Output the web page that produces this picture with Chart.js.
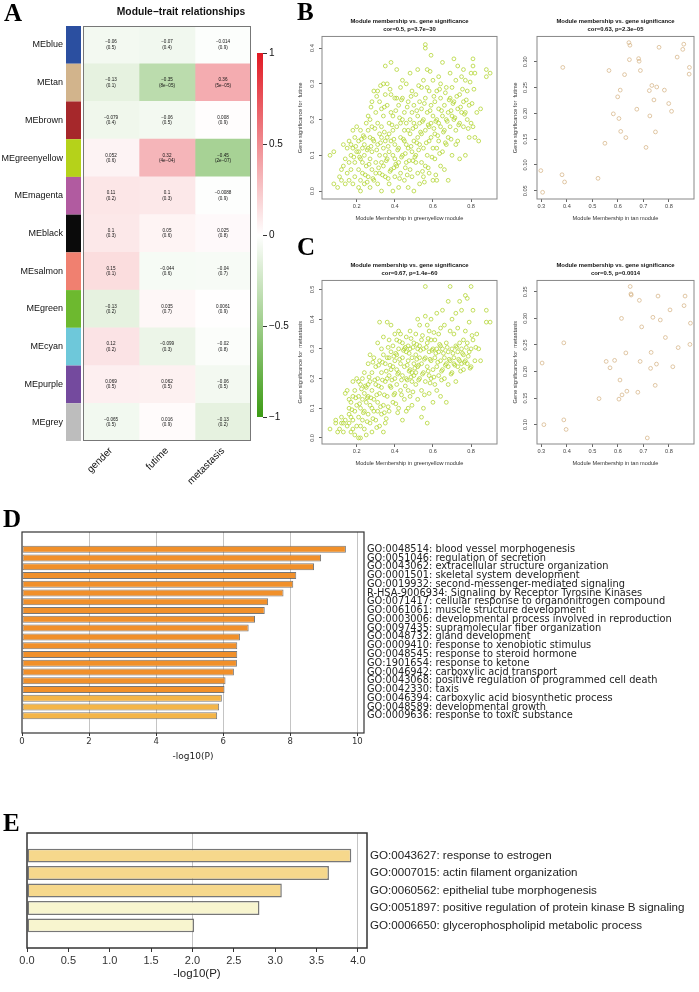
<!DOCTYPE html>
<html>
<head>
<meta charset="utf-8">
<title>Module-trait relationships and enrichment</title>
<script src="https://cdn.jsdelivr.net/npm/chart.js@4.4.1/dist/chart.umd.min.js"></script>
<style>
  html, body { margin: 0; padding: 0; background: #fff; }
  #page { position: relative; width: 699px; height: 992px; overflow: hidden; }
  canvas, .txt { position: absolute; }
  .letter { font-family: "Liberation Serif", "Times New Roman", serif; font-weight: bold; line-height: 1; font-size: 25px; color: #000; }
  .mtitle { font-family: "Liberation Sans", Arial, sans-serif; font-weight: bold; font-size: 10.3px; line-height: 12px; transform: translateX(-50%); white-space: nowrap; color: #111; }
</style>
</head>
<body>
<div id="page">
  <canvas id="heat" width="300" height="495" style="left:0px;top:0px"></canvas>
  <canvas id="cbar" width="50" height="395" style="left:250px;top:40px"></canvas>
  <canvas id="b1" width="212" height="216" style="left:290px;top:14px"></canvas>
  <canvas id="b2" width="194" height="216" style="left:505px;top:14px"></canvas>
  <canvas id="c1" width="212" height="217" style="left:290px;top:258px"></canvas>
  <canvas id="c2" width="194" height="217" style="left:505px;top:258px"></canvas>
  <canvas id="dbar" width="699" height="250" style="left:0px;top:520px"></canvas>
  <canvas id="ebar" width="699" height="172" style="left:0px;top:820px"></canvas>

  <div class="txt letter" style="left:4px;top:0px">A</div>
  <div class="txt mtitle" style="left:181px;top:6px">Module−trait relationships</div>
  <div class="txt letter" style="left:297px;top:-1px">B</div>
  <div class="txt letter" style="left:297px;top:234px">C</div>
  <div class="txt letter" style="left:3px;top:506px">D</div>
  <div class="txt letter" style="left:3px;top:810px">E</div>
</div>
<script>
// ---- panel A : module-trait heatmap ----
const modules = ["MEblue", "MEtan", "MEbrown", "MEgreenyellow", "MEmagenta", "MEblack",
  "MEsalmon", "MEgreen", "MEcyan", "MEpurple", "MEgrey"];
const moduleColors = ["#2B4FA0", "#D2B48C", "#A6282B", "#B5D21A", "#B15BA0", "#0A0A0A",
  "#F08070", "#6DB92F", "#6EC8DA", "#744A9E", "#BDBDBD"];
const traits = ["gender", "futime", "metastasis"];

const corGender = [-0.06, -0.13, -0.079, 0.052, 0.11, 0.1, 0.15, -0.13, 0.12, 0.069, -0.065];
const pGender = ["0.5", "0.1", "0.4", "0.6", "0.2", "0.3", "0.1", "0.2", "0.2", "0.5", "0.5"];
const corFutime = [-0.07, -0.35, -0.06, 0.32, 0.1, 0.05, -0.044, 0.035, -0.099, 0.062, 0.016];
const pFutime = ["0.4", "8e-05", "0.5", "4e-04", "0.3", "0.6", "0.6", "0.7", "0.3", "0.5", "0.9"];
const corMeta = [-0.014, 0.36, 0.008, -0.45, -0.0088, 0.025, -0.04, 0.0061, -0.02, -0.06, -0.13];
const pMeta = ["0.9", "5e-05", "0.9", "2e-07", "0.9", "0.8", "0.7", "0.9", "0.8", "0.5", "0.2"];
const cbTicks = [-1, -0.5, 0, 0.5, 1];

// ---- panels B / C : module membership vs gene significance ----
// greenyellow module, GS for futime
const gyFutime = [
  [0.06,0.10],[0.08,0.11],[0.08,0.02],[0.10,0.01],
  [0.11,0.04],[0.12,0.03],[0.13,0.07],[0.13,0.13],[0.14,0.09],[0.14,0.02],[0.15,0.05],[0.15,0.12],[0.12,0.06],
  [0.16,0.14],[0.16,0.03],[0.17,0.10],[0.17,0.06],[0.18,0.12],[0.18,0.17],[0.18,0.02],[0.19,0.08],[0.19,0.15],
  [0.19,0.04],[0.20,0.11],[0.20,0.18],[0.16,0.08],[0.17,0.13],
  [0.21,0.01],[0.21,0.06],[0.21,0.14],[0.22,0.09],[0.22,0.03],[0.22,0.17],[0.23,0.12],[0.23,0.05],[0.24,0.10],
  [0.24,0.15],[0.24,0.02],[0.25,0.07],[0.25,0.19],[0.23,0.08],[0.21,0.11],[0.24,0.13],[0.22,0.00],
  [0.26,0.04],[0.26,0.12],[0.26,0.21],[0.27,0.09],[0.27,0.15],[0.27,0.01],[0.28,0.06],[0.28,0.18],[0.28,0.11],
  [0.29,0.03],[0.29,0.14],[0.29,0.28],[0.30,0.08],[0.30,0.22],[0.30,0.05],[0.26,0.17],[0.28,0.25],[0.27,0.20],
  [0.31,0.13],[0.31,0.02],[0.31,0.19],[0.32,0.10],[0.32,0.25],[0.32,0.05],[0.33,0.15],[0.33,0.08],[0.33,0.00],
  [0.34,0.12],[0.34,0.21],[0.34,0.30],[0.35,0.04],[0.35,0.14],[0.35,0.35],[0.35,0.27],[0.33,0.23],[0.32,0.16],
  [0.34,0.07],[0.31,0.28],[0.35,0.10],[0.33,0.18],
  [0.36,0.09],[0.36,0.15],[0.36,0.24],[0.37,0.02],[0.37,0.11],[0.37,0.19],[0.38,0.06],[0.38,0.14],[0.38,0.36],
  [0.38,0.27],[0.39,0.10],[0.39,0.21],[0.39,0.00],[0.40,0.13],[0.40,0.26],[0.40,0.04],[0.36,0.30],[0.37,0.16],
  [0.39,0.17],[0.40,0.09],[0.38,0.22],
  [0.41,0.18],[0.41,0.07],[0.41,0.34],[0.42,0.12],[0.42,0.24],[0.42,0.01],[0.43,0.15],[0.43,0.29],[0.43,0.05],
  [0.44,0.10],[0.44,0.20],[0.44,0.26],[0.45,0.14],[0.45,0.03],[0.45,0.22],[0.41,0.26],[0.43,0.19],[0.42,0.08],
  [0.44,0.31],[0.45,0.17],
  [0.46,0.08],[0.46,0.19],[0.46,0.30],[0.47,0.12],[0.47,0.25],[0.47,0.01],[0.48,0.16],[0.48,0.33],[0.48,0.06],
  [0.49,0.22],[0.49,0.11],[0.49,0.28],[0.50,0.14],[0.50,0.00],[0.50,0.19],[0.46,0.13],[0.48,0.20],[0.49,0.04],
  [0.47,0.17],[0.50,0.24],
  [0.51,0.10],[0.51,0.27],[0.51,0.18],[0.52,0.05],[0.52,0.21],[0.52,0.34],[0.53,0.13],[0.53,0.25],[0.53,0.02],
  [0.54,0.16],[0.54,0.29],[0.54,0.08],[0.55,0.20],[0.55,0.12],[0.55,0.31],[0.52,0.15],[0.54,0.23],[0.51,0.08],
  [0.53,0.19],[0.55,0.04],
  [0.56,0.41],[0.56,0.40],[0.56,0.17],[0.56,0.26],[0.57,0.10],[0.57,0.22],[0.57,0.34],[0.58,0.14],[0.58,0.28],
  [0.58,0.05],[0.59,0.19],[0.59,0.24],[0.59,0.38],[0.60,0.12],[0.60,0.21],[0.60,0.31],[0.56,0.07],[0.57,0.29],
  [0.58,0.18],[0.60,0.03],[0.59,0.15],
  [0.61,0.25],[0.61,0.16],[0.61,0.09],[0.62,0.20],[0.62,0.28],[0.62,0.03],[0.63,0.14],[0.63,0.23],[0.63,0.32],
  [0.64,0.18],[0.64,0.07],[0.64,0.26],[0.65,0.21],[0.65,0.36],[0.65,0.11],[0.62,0.12],[0.63,0.19],[0.64,0.30],
  [0.66,0.17],[0.66,0.24],[0.66,0.06],[0.67,0.20],[0.67,0.29],[0.67,0.13],[0.68,0.22],[0.68,0.03],[0.69,0.26],
  [0.69,0.18],[0.70,0.10],[0.70,0.21],[0.70,0.29],[0.68,0.15],[0.69,0.33],
  [0.71,0.20],[0.71,0.37],[0.71,0.25],[0.72,0.13],[0.72,0.31],[0.72,0.17],[0.73,0.23],[0.73,0.35],[0.74,0.19],
  [0.74,0.27],[0.74,0.09],[0.75,0.22],[0.75,0.32],[0.73,0.14],
  [0.76,0.25],[0.76,0.34],[0.76,0.18],[0.77,0.31],[0.77,0.22],[0.77,0.10],[0.78,0.20],[0.78,0.28],[0.79,0.15],
  [0.79,0.24],[0.80,0.33],[0.80,0.19],
  [0.81,0.37],[0.81,0.35],[0.81,0.18],[0.82,0.33],[0.82,0.15],[0.83,0.22],[0.84,0.14],[0.85,0.23],
  [0.88,0.32],[0.88,0.34],[0.90,0.33],
  [0.215,0.095],[0.235,0.155],[0.245,0.045],[0.255,0.115],[0.265,0.075],[0.275,0.125],[0.285,0.035],[0.295,0.175],
  [0.305,0.115],[0.315,0.065],[0.325,0.135],[0.335,0.045],[0.345,0.165],[0.355,0.085],[0.365,0.125],[0.375,0.055],
  [0.385,0.185],[0.395,0.145],[0.405,0.075],[0.415,0.115],[0.425,0.205],[0.435,0.095],[0.445,0.145],[0.455,0.065],
  [0.465,0.235],[0.475,0.085],[0.485,0.125],[0.495,0.175],[0.505,0.095],[0.515,0.225],[0.525,0.115],[0.535,0.165],
  [0.545,0.055],[0.555,0.245],[0.565,0.135],[0.575,0.185],[0.585,0.225],[0.595,0.095],[0.605,0.265],[0.615,0.195],
  [0.625,0.155],[0.635,0.285],[0.645,0.225],[0.655,0.165],[0.665,0.275],[0.675,0.195],[0.685,0.255],[0.695,0.145],
  [0.705,0.245],[0.715,0.205],[0.725,0.265],[0.735,0.185],[0.745,0.235],[0.755,0.285],[0.765,0.215],[0.775,0.255],
  [0.785,0.175],[0.795,0.305],[0.805,0.245],[0.815,0.285],[0.345,0.235],[0.375,0.285],[0.405,0.225],[0.435,0.255],
  [0.465,0.045],[0.495,0.085],[0.525,0.295],[0.555,0.025],[0.585,0.335],[0.615,0.045],[0.275,0.235],[0.305,0.265],
  [0.325,0.295],[0.185,0.095],[0.195,0.125],[0.225,0.145],[0.255,0.025],[0.285,0.145],[0.365,0.035],[0.395,0.065],
  [0.425,0.035],[0.455,0.105],[0.485,0.265],[0.515,0.135],[0.545,0.195],[0.575,0.065],[0.605,0.175],[0.635,0.105],
  [0.665,0.135],[0.695,0.225]
];
// tan module, GS for futime
const tanFutime = [
  [0.298,0.089],[0.305,0.047],[0.381,0.081],[0.391,0.067],[0.384,0.289],[0.522,0.074],[0.549,0.142],
  [0.565,0.283],[0.582,0.199],[0.599,0.232],[0.609,0.245],[0.604,0.190],[0.611,0.165],[0.626,0.275],
  [0.631,0.153],[0.643,0.337],[0.647,0.332],[0.645,0.304],[0.674,0.208],[0.681,0.306],[0.683,0.301],
  [0.688,0.283],[0.710,0.134],[0.723,0.244],[0.733,0.254],[0.725,0.195],[0.741,0.226],[0.752,0.251],
  [0.747,0.164],[0.761,0.328],[0.782,0.245],[0.799,0.219],[0.810,0.204],[0.832,0.309],[0.854,0.324],
  [0.858,0.334],[0.880,0.289],[0.879,0.276]
];
// greenyellow module, GS for metastasis
const gyMeta = [
  [0.06,0.03],[0.09,0.06],[0.09,0.05],[0.10,0.02],
  [0.11,0.03],[0.12,0.07],[0.13,0.05],[0.13,0.02],[0.14,0.15],[0.14,0.06],[0.15,0.16],[0.15,0.04],[0.12,0.05],
  [0.16,0.05],[0.16,0.10],[0.16,0.13],[0.17,0.07],[0.17,0.02],[0.17,0.12],[0.18,0.06],[0.18,0.19],[0.18,0.14],
  [0.19,0.09],[0.19,0.01],[0.19,0.16],[0.20,0.11],[0.20,0.20],[0.20,0.04],[0.16,0.08],[0.18,0.03],
  [0.21,0.07],[0.21,0.14],[0.21,0.00],[0.22,0.18],[0.22,0.10],[0.22,0.04],[0.23,0.13],[0.23,0.20],[0.23,0.06],
  [0.24,0.15],[0.24,0.09],[0.24,0.22],[0.25,0.12],[0.25,0.01],[0.25,0.17],[0.22,0.00],[0.24,0.03],[0.21,0.19],
  [0.26,0.08],[0.26,0.14],[0.26,0.25],[0.27,0.19],[0.27,0.05],[0.27,0.11],[0.28,0.16],[0.28,0.22],[0.28,0.02],
  [0.29,0.13],[0.29,0.27],[0.29,0.09],[0.30,0.18],[0.30,0.24],[0.30,0.06],[0.27,0.28],[0.28,0.10],[0.26,0.18],
  [0.31,0.12],[0.31,0.20],[0.31,0.32],[0.32,0.39],[0.32,0.15],[0.32,0.26],[0.33,0.08],[0.33,0.22],[0.33,0.17],
  [0.34,0.28],[0.34,0.11],[0.34,0.34],[0.35,0.19],[0.35,0.05],[0.35,0.25],[0.32,0.04],[0.33,0.30],[0.34,0.02],
  [0.31,0.09],
  [0.36,0.39],[0.36,0.14],[0.36,0.27],[0.37,0.21],[0.37,0.33],[0.37,0.09],[0.38,0.17],[0.38,0.38],[0.38,0.29],
  [0.39,0.24],[0.39,0.12],[0.39,0.31],[0.40,0.20],[0.40,0.35],[0.40,0.15],[0.36,0.20],[0.38,0.23],[0.37,0.27],
  [0.40,0.26],
  [0.41,0.28],[0.41,0.18],[0.41,0.33],[0.42,0.22],[0.42,0.10],[0.42,0.30],[0.43,0.25],[0.43,0.16],[0.43,0.35],
  [0.44,0.27],[0.44,0.21],[0.44,0.06],[0.45,0.30],[0.45,0.13],[0.45,0.24],[0.42,0.36],[0.44,0.32],[0.41,0.23],
  [0.46,0.20],[0.46,0.29],[0.46,0.34],[0.47,0.26],[0.47,0.16],[0.47,0.10],[0.48,0.23],[0.48,0.30],[0.48,0.36],
  [0.49,0.19],[0.49,0.27],[0.49,0.11],[0.50,0.25],[0.50,0.32],[0.50,0.21],[0.47,0.31],[0.49,0.22],[0.46,0.09],
  [0.48,0.14],
  [0.51,0.28],[0.51,0.18],[0.51,0.35],[0.52,0.24],[0.52,0.30],[0.52,0.13],[0.53,0.27],[0.53,0.20],[0.53,0.38],
  [0.54,0.33],[0.54,0.16],[0.54,0.25],[0.55,0.30],[0.55,0.22],[0.55,0.10],[0.52,0.40],[0.54,0.07],[0.51,0.22],
  [0.53,0.31],
  [0.56,0.51],[0.56,0.41],[0.56,0.27],[0.56,0.19],[0.57,0.05],[0.57,0.32],[0.57,0.24],[0.58,0.29],[0.58,0.36],
  [0.58,0.15],[0.59,0.26],[0.59,0.20],[0.59,0.33],[0.60,0.30],[0.60,0.23],[0.60,0.12],[0.57,0.38],[0.58,0.21],
  [0.59,0.40],
  [0.61,0.27],[0.61,0.33],[0.61,0.18],[0.62,0.30],[0.62,0.24],[0.62,0.42],[0.63,0.29],[0.63,0.21],[0.63,0.35],
  [0.64,0.26],[0.64,0.31],[0.64,0.14],[0.65,0.23],[0.65,0.30],[0.65,0.43],[0.62,0.16],[0.64,0.37],
  [0.66,0.27],[0.66,0.20],[0.66,0.38],[0.67,0.25],[0.67,0.32],[0.67,0.12],[0.68,0.29],[0.68,0.24],[0.68,0.46],
  [0.69,0.51],[0.69,0.36],[0.69,0.26],[0.70,0.30],[0.70,0.22],[0.70,0.40],[0.68,0.18],
  [0.71,0.27],[0.71,0.35],[0.71,0.25],[0.72,0.31],[0.72,0.19],[0.72,0.42],[0.73,0.29],[0.73,0.37],[0.73,0.24],
  [0.74,0.46],[0.74,0.32],[0.74,0.26],[0.75,0.30],[0.75,0.25],[0.75,0.43],
  [0.76,0.33],[0.76,0.28],[0.76,0.23],[0.77,0.48],[0.77,0.36],[0.77,0.26],[0.78,0.47],[0.78,0.32],[0.78,0.25],
  [0.79,0.39],[0.79,0.29],[0.80,0.51],[0.80,0.30],[0.80,0.24],
  [0.81,0.43],[0.81,0.33],[0.82,0.26],[0.83,0.35],[0.84,0.30],[0.85,0.26],
  [0.88,0.43],[0.88,0.39],[0.90,0.39],
  [0.215,0.115],[0.235,0.085],[0.245,0.175],[0.255,0.055],[0.265,0.205],[0.275,0.135],[0.285,0.065],[0.295,0.195],
  [0.305,0.145],[0.315,0.245],[0.325,0.105],[0.335,0.195],[0.345,0.145],[0.355,0.225],[0.365,0.105],[0.375,0.245],
  [0.385,0.195],[0.395,0.145],[0.405,0.285],[0.415,0.215],[0.425,0.265],[0.435,0.195],[0.445,0.295],[0.455,0.175],
  [0.465,0.245],[0.475,0.285],[0.485,0.205],[0.495,0.305],[0.505,0.235],[0.515,0.265],[0.525,0.195],[0.535,0.295],
  [0.545,0.215],[0.555,0.265],[0.565,0.305],[0.575,0.225],[0.585,0.265],[0.595,0.295],[0.605,0.205],[0.615,0.285],
  [0.625,0.255],[0.635,0.315],[0.645,0.225],[0.655,0.285],[0.665,0.245],[0.675,0.305],[0.685,0.265],[0.695,0.215],
  [0.705,0.285],[0.715,0.245],[0.725,0.305],[0.735,0.265],[0.745,0.225],[0.755,0.285],[0.765,0.255],[0.775,0.305],
  [0.785,0.275],[0.795,0.235],[0.805,0.345],[0.825,0.305],[0.335,0.255],[0.365,0.305],[0.395,0.275],[0.425,0.325],
  [0.455,0.305],[0.485,0.335],[0.515,0.315],[0.545,0.345],[0.575,0.335],[0.605,0.355],[0.285,0.255],[0.315,0.175],
  [0.345,0.085],[0.375,0.175],[0.405,0.115],[0.435,0.145],[0.465,0.195],[0.495,0.155],[0.525,0.245],[0.555,0.145],
  [0.195,0.135],[0.175,0.095],[0.225,0.165],[0.255,0.135],[0.305,0.035],[0.355,0.065],[0.415,0.085],[0.475,0.225],
  [0.585,0.185],[0.645,0.195]
];
// tan module, GS for metastasis
const tanMeta = [
  [0.303,0.216],[0.310,0.100],[0.388,0.254],[0.388,0.109],[0.397,0.091],[0.526,0.149],[0.554,0.219],
  [0.569,0.207],[0.587,0.221],[0.604,0.148],[0.608,0.184],[0.614,0.300],[0.616,0.156],[0.631,0.235],
  [0.635,0.163],[0.648,0.360],[0.651,0.346],[0.652,0.344],[0.678,0.161],[0.684,0.334],[0.687,0.219],
  [0.693,0.284],[0.715,0.075],[0.728,0.206],[0.730,0.236],[0.737,0.302],[0.746,0.174],[0.751,0.214],
  [0.757,0.342],[0.766,0.297],[0.786,0.264],[0.804,0.316],[0.815,0.209],[0.836,0.245],[0.859,0.324],
  [0.863,0.342],[0.882,0.251],[0.884,0.291]
];
const gyTicksX = [0.2, 0.4, 0.6, 0.8];
const tanTicksX = [0.3, 0.4, 0.5, 0.6, 0.7, 0.8];
const futimeTicksGY = [0, 0.1, 0.2, 0.3, 0.4];
const futimeTicksTan = [0.05, 0.10, 0.15, 0.20, 0.25, 0.30];
const metaTicksGY = [0, 0.1, 0.2, 0.3, 0.4, 0.5];
const metaTicksTan = [0.10, 0.15, 0.20, 0.25, 0.30, 0.35];

// ---- panels D / E : enrichment bars ----
const dTerms = [
  "GO:0048514: blood vessel morphogenesis",
  "GO:0051046: regulation of secretion",
  "GO:0043062: extracellular structure organization",
  "GO:0001501: skeletal system development",
  "GO:0019932: second-messenger-mediated signaling",
  "R-HSA-9006934: Signaling by Receptor Tyrosine Kinases",
  "GO:0071417: cellular response to organonitrogen compound",
  "GO:0061061: muscle structure development",
  "GO:0003006: developmental process involved in reproduction",
  "GO:0097435: supramolecular fiber organization",
  "GO:0048732: gland development",
  "GO:0009410: response to xenobiotic stimulus",
  "GO:0048545: response to steroid hormone",
  "GO:1901654: response to ketone",
  "GO:0046942: carboxylic acid transport",
  "GO:0043068: positive regulation of programmed cell death",
  "GO:0042330: taxis",
  "GO:0046394: carboxylic acid biosynthetic process",
  "GO:0048589: developmental growth",
  "GO:0009636: response to toxic substance"
];
const dValues = [9.66, 8.92, 8.71, 8.18, 8.09, 7.80, 7.34, 7.24, 6.95, 6.76,
  6.50, 6.42, 6.42, 6.41, 6.32, 6.07, 6.04, 5.96, 5.88, 5.82];
const dTicks = [0, 2, 4, 6, 8, 10];

const eTerms = [
  "GO:0043627: response to estrogen",
  "GO:0007015: actin filament organization",
  "GO:0060562: epithelial tube morphogenesis",
  "GO:0051897: positive regulation of protein kinase B signaling",
  "GO:0006650: glycerophospholipid metabolic process"
];
const eValues = [3.92, 3.65, 3.08, 2.81, 2.02];
const eTicks = [0, 0.5, 1.0, 1.5, 2.0, 2.5, 3.0, 3.5, 4.0];

// ------------------------------------------------------------------
const SANS = '"Liberation Sans", Arial, sans-serif';
const DEJAVU = '"DejaVu Sans", Verdana, sans-serif';

Chart.defaults.animation = false;
Chart.defaults.responsive = false;
Chart.defaults.maintainAspectRatio = false;
Chart.defaults.plugins.legend.display = false;
Chart.defaults.plugins.tooltip.enabled = false;
Chart.defaults.color = '#222';

const minus = s => String(s).replace(/-/g, '\u2212');

function heatColor(r) {
  const end = r >= 0 ? [225, 25, 35] : [60, 155, 20];
  const t = Math.min(1, Math.abs(r));
  const c = end.map(e => Math.round(255 - t * (255 - e)));
  return 'rgb(' + c.join(',') + ')';
}

// strip + frame + numbers in the cells
const heatExtras = {
  id: 'heatExtras',
  afterDatasetsDraw(chart) {
    const ctx = chart.ctx;
    const area = chart.chartArea;
    ctx.save();
    chart.getDatasetMeta(0).data.forEach((bar, i) => {
      ctx.fillStyle = moduleColors[i];
      ctx.fillRect(area.left - 17, bar.y - bar.height / 2, 15, bar.height);
    });
    ctx.strokeStyle = '#777';
    ctx.lineWidth = 1;
    ctx.strokeRect(area.left + 0.5, area.top + 0.5, area.width - 1, area.height - 1);
    ctx.fillStyle = '#111';
    ctx.font = '4.6px ' + SANS;
    ctx.textAlign = 'center';
    ctx.textBaseline = 'middle';
    chart.data.datasets.forEach((ds, di) => {
      chart.getDatasetMeta(di).data.forEach((bar, i) => {
        const cx = (bar.x + bar.base) / 2;
        ctx.fillText(minus(ds.cor[i]), cx, bar.y - 2.7);
        ctx.fillText('(' + minus(ds.p[i]) + ')', cx, bar.y + 2.7);
      });
    });
    ctx.restore();
  }
};

const heatSets = [
  { label: traits[0], cor: corGender, p: pGender },
  { label: traits[1], cor: corFutime, p: pFutime },
  { label: traits[2], cor: corMeta, p: pMeta }
].map(s => ({
  label: s.label,
  cor: s.cor,
  p: s.p,
  data: modules.map(() => 1),
  backgroundColor: s.cor.map(heatColor),
  borderWidth: 0,
  categoryPercentage: 1,
  barPercentage: 1
}));

new Chart(document.getElementById('heat'), {
  type: 'bar',
  data: { labels: modules, datasets: heatSets },
  options: {
    indexAxis: 'y',
    layout: { padding: { top: 26, right: 49 } },
    scales: {
      x: {
        type: 'linear', stacked: true, min: 0, max: traits.length,
        afterBuildTicks: s => { s.ticks = traits.map((t, i) => ({ value: i + 0.5 })); },
        afterFit: s => { s.height = 54; },
        grid: { display: false, drawTicks: false },
        border: { display: false },
        ticks: {
          autoSkip: false, minRotation: 45, maxRotation: 45, padding: 4,
          font: { family: SANS, size: 10 }, color: '#111',
          callback: (v, i) => traits[i]
        }
      },
      y: {
        stacked: true,
        afterFit: s => { s.width = 83; },
        grid: { display: false, drawTicks: false },
        border: { display: false },
        ticks: { padding: 20, font: { family: SANS, size: 9 }, color: '#111' }
      }
    }
  },
  plugins: [heatExtras]
});

// colour key
const gradientFill = {
  id: 'gradientFill',
  beforeDatasetsDraw(chart) {
    const { ctx, chartArea: a } = chart;
    const g = ctx.createLinearGradient(0, a.bottom, 0, a.top);
    for (let k = 0; k <= 20; k++) g.addColorStop(k / 20, heatColor(-1 + k / 10));
    ctx.save();
    ctx.fillStyle = g;
    ctx.fillRect(a.left, a.top, a.width, a.height);
    ctx.restore();
  }
};

new Chart(document.getElementById('cbar'), {
  type: 'bar',
  data: { labels: [''], datasets: [{ data: [null] }] },
  options: {
    layout: { padding: { left: 7, top: 13, bottom: 18 } },
    scales: {
      x: { display: false },
      y: {
        position: 'right', min: -1, max: 1,
        afterBuildTicks: s => { s.ticks = cbTicks.map(v => ({ value: v })); },
        afterFit: s => { s.width = 37; },
        grid: { drawOnChartArea: false, drawTicks: true, tickLength: 4, color: '#333' },
        border: { display: false },
        ticks: { padding: 2, font: { family: SANS, size: 10 }, color: '#111',
          callback: v => (v < 0 ? '\u2212' : '') + Math.abs(v) }
      }
    }
  },
  plugins: [gradientFill]
});

// scatter panels
const frame = {
  id: 'frame',
  afterDraw(chart) {
    const { ctx, chartArea: a } = chart;
    ctx.save();
    ctx.strokeStyle = chart.options.plugins.frame.color;
    ctx.lineWidth = chart.options.plugins.frame.width;
    ctx.strokeRect(a.left, a.top, a.width, a.height);
    ctx.restore();
  }
};

function scatterPanel(id, pts, color, titleLines, xTitle, yTitle, xlim, ylim, xt, yt, yDec) {
  const tickFont = { family: SANS, size: 5.6 };
  new Chart(document.getElementById(id), {
    type: 'scatter',
    data: {
      datasets: [{
        data: pts.map(p => ({ x: p[0], y: p[1] })),
        pointRadius: 1.9,
        pointBorderWidth: 0.8,
        pointBackgroundColor: 'rgba(0,0,0,0)',
        pointBorderColor: color
      }]
    },
    options: {
      layout: { padding: { right: 5 } },
      plugins: {
        frame: { color: '#888', width: 1 },
        title: {
          display: true, text: titleLines, fullSize: false, color: '#111',
          font: { family: SANS, size: 5.9, weight: 'bold', lineHeight: 1.25 },
          padding: { top: 4, bottom: 3.7 }
        }
      },
      scales: {
        x: {
          type: 'linear', min: xlim[0], max: xlim[1],
          afterBuildTicks: s => { s.ticks = xt.map(v => ({ value: v })); },
          afterFit: s => { s.height = 31; },
          grid: { drawOnChartArea: false, drawTicks: true, tickLength: 3, color: '#666' },
          border: { display: false },
          ticks: { padding: 1, font: tickFont, color: '#444', callback: v => v.toFixed(1) },
          title: { display: true, text: xTitle, font: { family: SANS, size: 5.6, lineHeight: 1.2 },
            color: '#333', padding: { top: 0, bottom: 8.6 } }
        },
        y: {
          type: 'linear', min: ylim[0], max: ylim[1],
          afterBuildTicks: s => { s.ticks = yt.map(v => ({ value: v })); },
          afterFit: s => { s.width = 32; },
          grid: { drawOnChartArea: false, drawTicks: true, tickLength: 3, color: '#666' },
          border: { display: false },
          ticks: { minRotation: 90, maxRotation: 90, crossAlign: 'center', padding: 2.8,
            font: tickFont, color: '#444', callback: v => v.toFixed(yDec) },
          title: { display: true, text: yTitle, font: { family: SANS, size: 5.6, lineHeight: 1.2 },
            color: '#333', padding: { top: 6.6, bottom: 0 } }
        }
      }
    },
    plugins: [frame]
  });
}

const GY = '#B4D636';
const TAN = '#D8B98E';
scatterPanel('b1', gyFutime, GY,
  ['Module membership vs. gene significance', 'cor=0.5, p=3.7e\u221230'],
  'Module Membership in greenyellow module', 'Gene significance for  futime',
  [0.018, 0.936], [-0.0223, 0.4327], gyTicksX, futimeTicksGY, 1);
scatterPanel('b2', tanFutime, TAN,
  ['Module membership vs. gene significance', 'cor=0.63, p=2.3e\u221205'],
  'Module Membership in tan module', 'Gene significance for  futime',
  [0.283, 0.898], [0.034, 0.349], tanTicksX, futimeTicksTan, 2);
scatterPanel('c1', gyMeta, GY,
  ['Module membership vs. gene significance', 'cor=0.67, p=1.4e\u221260'],
  'Module Membership in greenyellow module', 'Gene significance for  metastasis',
  [0.018, 0.936], [-0.0204, 0.5304], gyTicksX, metaTicksGY, 1);
scatterPanel('c2', tanMeta, TAN,
  ['Module membership vs. gene significance', 'cor=0.5, p=0.0014'],
  'Module Membership in tan module', 'Gene significance for  metastasis',
  [0.283, 0.898], [0.0636, 0.3714], tanTicksX, metaTicksTan, 2);

// enrichment bar panels
function binColor(v) {
  if (v >= 6) return '#F1902A';
  if (v >= 4) return '#F4B548';
  if (v >= 3) return '#F6D88C';
  return '#F8F5CF';
}

function enrichPanel(id, terms, values, ticks, xmax, o) {
  const n = terms.length;
  const margin = 0.05 * (n - 1 + 0.8);
  new Chart(document.getElementById(id), {
    type: 'bar',
    data: {
      datasets: [{
        data: values.map((v, i) => ({ x: v, y: i })),
        backgroundColor: values.map(binColor),
        borderColor: 'rgba(95,95,95,0.85)',
        borderWidth: o.barBorder,
        borderSkipped: false,
        categoryPercentage: 1,
        barPercentage: 0.8
      }]
    },
    options: {
      indexAxis: 'y',
      layout: { padding: { left: o.left, top: o.top } },
      plugins: { frame: { color: '#333', width: o.frameWidth } },
      scales: {
        x: {
          type: 'linear', min: 0, max: xmax,
          afterBuildTicks: s => { s.ticks = ticks.map(v => ({ value: v })); },
          afterFit: s => { s.height = o.xHeight; },
          grid: {
            drawTicks: true, tickLength: o.tickLen, tickColor: '#333', lineWidth: 1,
            color: c => (c.tick && c.tick.value > 0 && c.tick.value % 2 === 0) ? '#C4C4C4' : 'rgba(0,0,0,0)'
          },
          border: { display: false },
          ticks: { padding: o.tickPad, font: o.tickFont, color: '#333', callback: o.fmt },
          title: { display: true, text: '-log10(P)', font: o.titleFont, color: '#222',
            padding: { top: 0, bottom: o.titlePad } }
        },
        y: {
          type: 'linear', position: 'right', reverse: true,
          min: -0.4 - margin, max: n - 1 + 0.4 + margin,
          afterBuildTicks: s => { s.ticks = terms.map((t, i) => ({ value: i })); },
          afterFit: s => { s.width = o.labelWidth; },
          grid: { display: false, drawTicks: false },
          border: { display: false },
          ticks: { autoSkip: false, padding: 3, font: o.labelFont, color: '#222',
            callback: (v, i) => terms[i] }
        }
      }
    },
    plugins: [frame]
  });
}

enrichPanel('dbar', dTerms, dValues, dTicks, 10.2, {
  left: 22, top: 12, xHeight: 37, labelWidth: 335, tickLen: 3, tickPad: 1,
  barBorder: 1, frameWidth: 1.2,
  tickFont: { family: DEJAVU, size: 8.5 }, titleFont: { family: DEJAVU, size: 9 }, titlePad: 7.6,
  labelFont: { family: DEJAVU, size: 9.8 }, fmt: v => String(v)
});
enrichPanel('ebar', eTerms, eValues, eTicks, 4.11, {
  left: 27, top: 13, xHeight: 44, labelWidth: 332, tickLen: 4, tickPad: 2,
  barBorder: 1.5, frameWidth: 1.5,
  tickFont: { family: SANS, size: 11 }, titleFont: { family: SANS, size: 11.5 }, titlePad: 10.8,
  labelFont: { family: SANS, size: 11.6 }, fmt: v => v.toFixed(1)
});
</script>
</body>
</html>
